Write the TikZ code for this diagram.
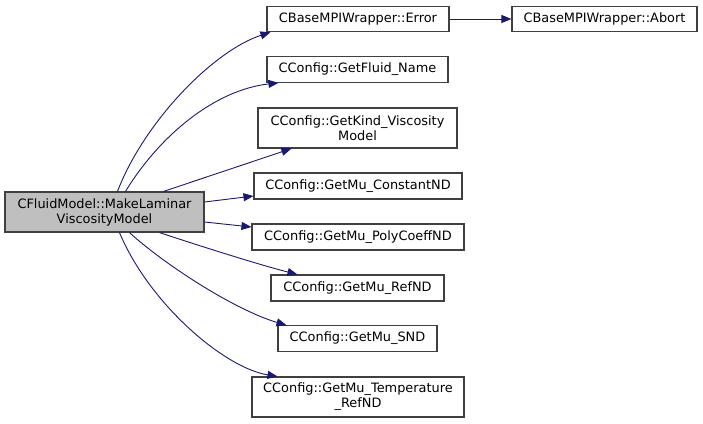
\documentclass[tikz,border=0pt]{standalone}
\usepackage{fontspec}
\setmainfont{DejaVu Sans}
\usetikzlibrary{arrows.meta,calc}
\definecolor{edgeblue}{HTML}{191970}
\definecolor{boxborder}{HTML}{404040}
\definecolor{mainfill}{HTML}{BFBFBF}
\tikzset{
  box/.style={draw=boxborder, line width=1.1pt, fill=white, inner sep=0pt, align=center,
    font=\fontsize{12.9}{15}\selectfont},
  mainbox/.style={box, fill=mainfill},
  edge/.style={draw=edgeblue, line width=0.9pt, -{Triangle[length=10pt,width=8pt]}},
}
\begin{document}
\begin{tikzpicture}[x=1pt,y=-1pt]
\useasboundingbox (0,0) rectangle (703,423);
\node[mainbox, minimum width=199pt, minimum height=40pt] (main) at (104.5,212) {CFluidModel::MakeLaminar\\ViscosityModel};
\node[box, minimum width=182pt, minimum height=25.5pt] (err) at (358,19) {CBaseMPIWrapper::Error};
\node[box, minimum width=185pt, minimum height=25.5pt] (abort) at (604.5,19) {CBaseMPIWrapper::Abort};
\node[box, minimum width=181pt, minimum height=25.5pt] (fluid) at (357.5,69.5) {CConfig::GetFluid\_Name};
\node[box, minimum width=199pt, minimum height=40pt] (kind) at (357.5,128) {CConfig::GetKind\_Viscosity\\Model};
\node[box, minimum width=208pt, minimum height=26pt] (const) at (358,186) {CConfig::GetMu\_ConstantND};
\node[box, minimum width=212pt, minimum height=26pt] (poly) at (358,237) {CConfig::GetMu\_PolyCoeffND};
\node[box, minimum width=173pt, minimum height=26pt] (ref) at (357.5,288) {CConfig::GetMu\_RefND};
\node[box, minimum width=159pt, minimum height=25.5pt] (snd) at (357.5,338.5) {CConfig::GetMu\_SND};
\node[box, minimum width=212pt, minimum height=40pt] (temp) at (358,397) {CConfig::GetMu\_Temperature\\\_RefND};

\draw[edge] ($(main.north west)+(113,0)$) .. controls (145,120) and (215,50) .. ($(err.south west)+(4,0)$);
\draw[edge] ($(main.north west)+(121,0)$) .. controls (160,135) and (215,90) .. ($(fluid.south west)+(12,0)$);
\draw[edge] ($(main.north west)+(159,0)$) -- ($(kind.south west)+(34,0)$);
\draw[edge] ($(main.east)+(0,-10)$) -- ($(const.west)+(0,10)$);
\draw[edge] ($(main.east)+(0,10)$) -- ($(poly.west)+(0,-10)$);
\draw[edge] ($(main.south west)+(155,0)$) .. controls (200,246) and (260,265) .. ($(ref.north west)+(27,0)$);
\draw[edge] ($(main.south west)+(125,0)$) .. controls (165,265) and (235,310) .. ($(snd.north west)+(9,0)$);
\draw[edge] ($(main.south west)+(115,0)$) .. controls (150,305) and (225,368) .. ($(temp.north west)+(26,0)$);
\draw[edge] (err) -- (abort);
\end{tikzpicture}
\end{document}
